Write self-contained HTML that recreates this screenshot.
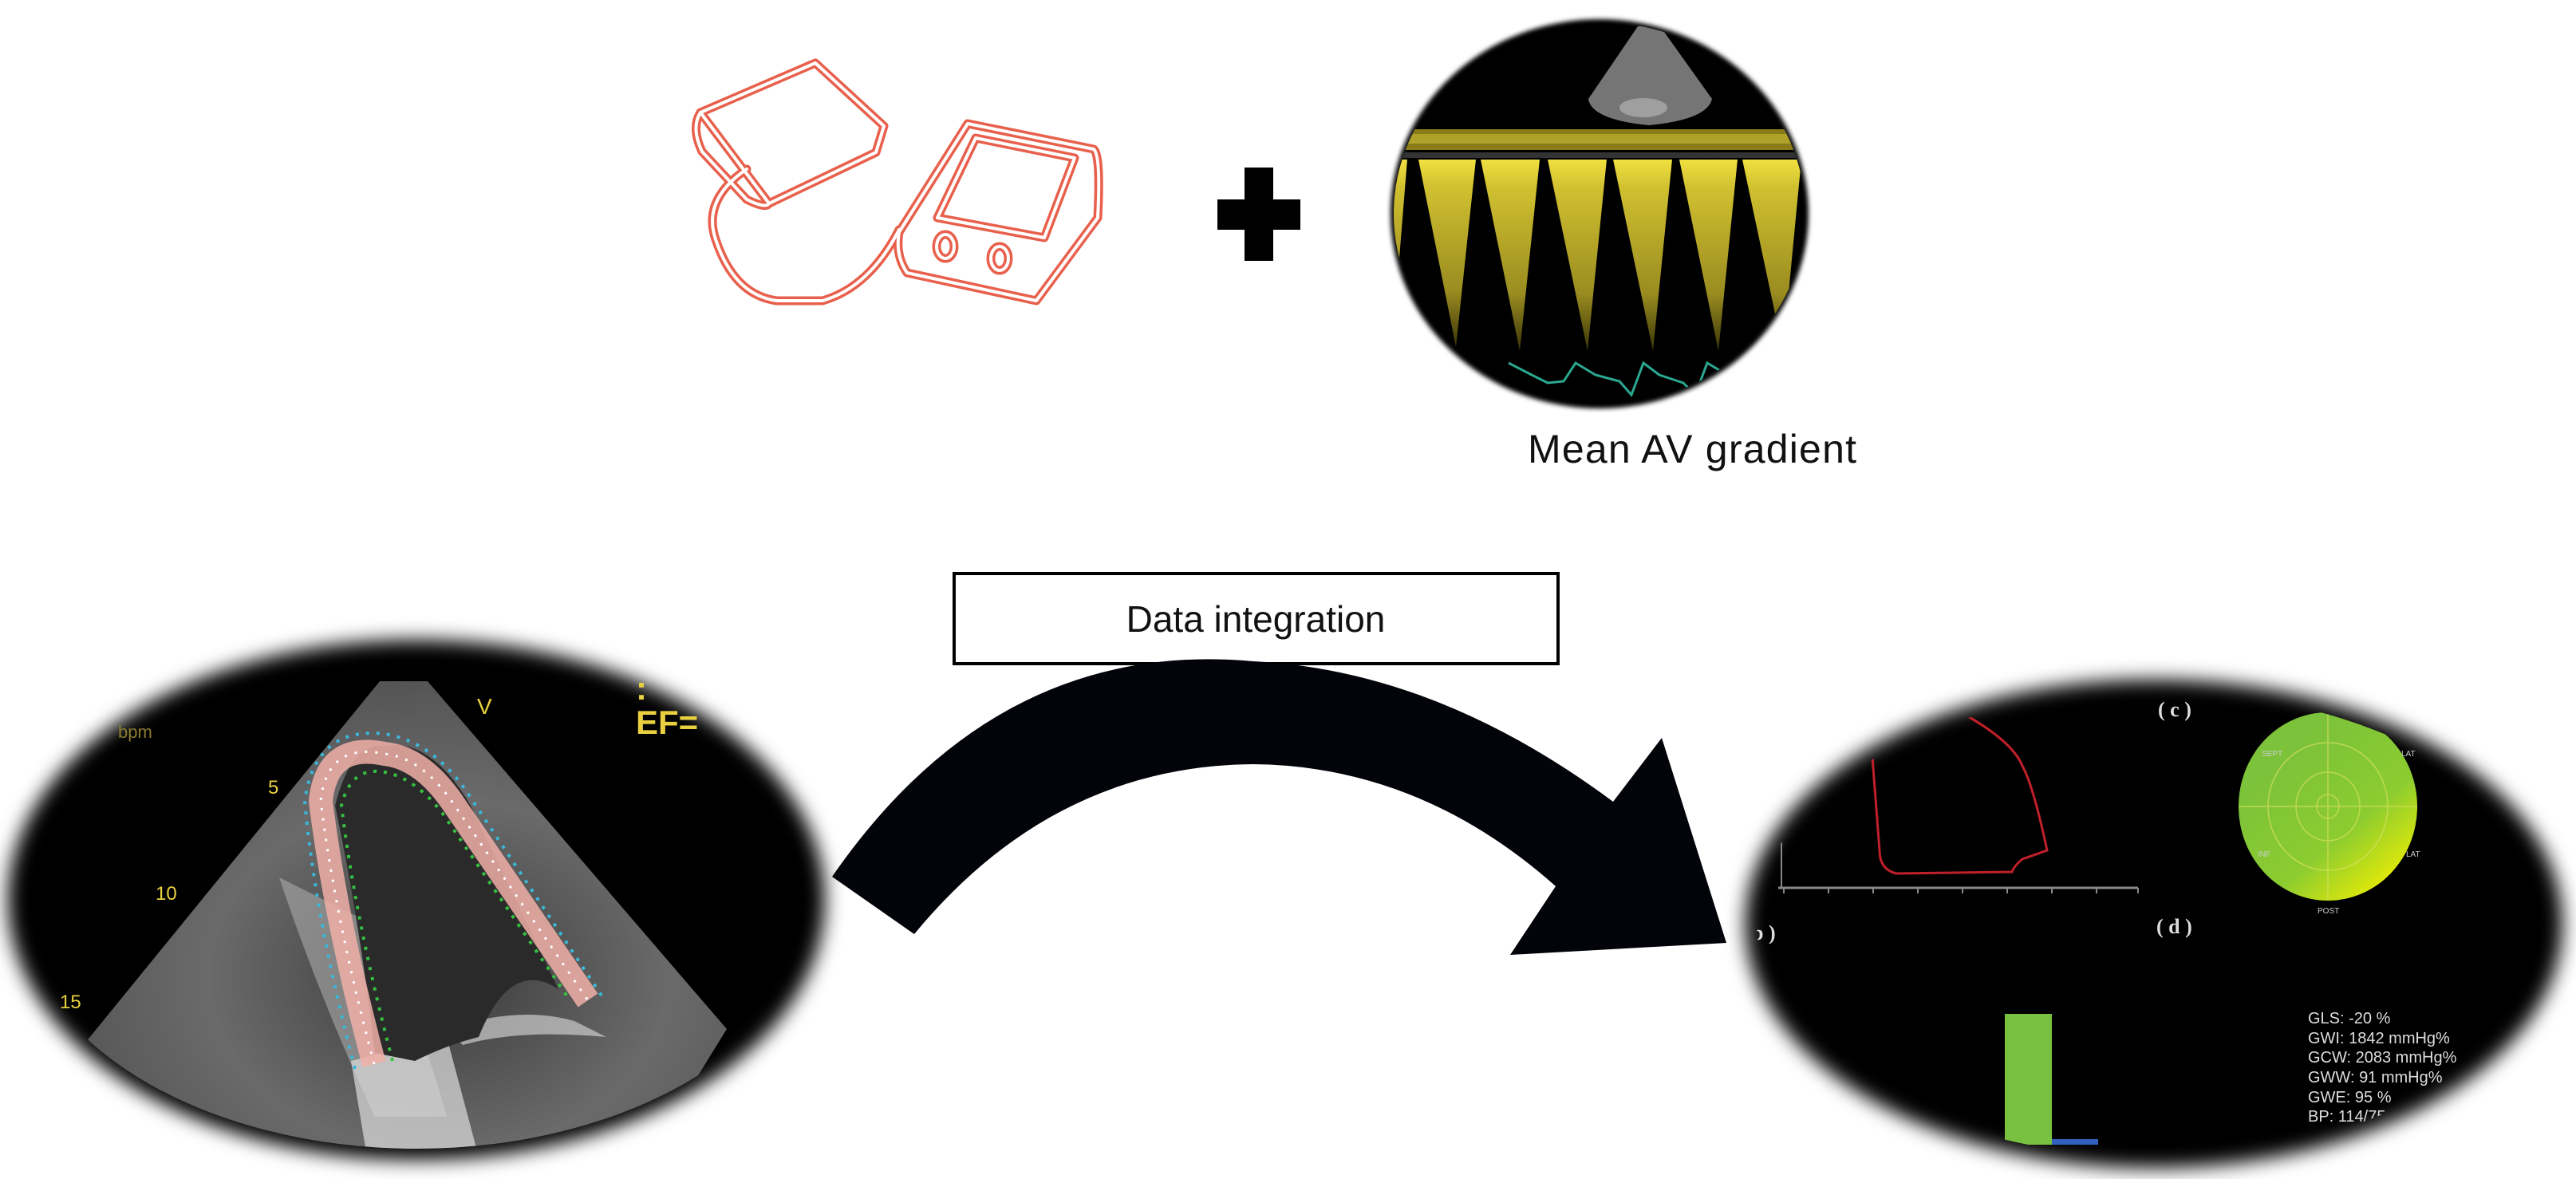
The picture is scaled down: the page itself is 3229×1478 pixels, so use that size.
<!DOCTYPE html>
<html><head><meta charset="utf-8"><style>
html,body{margin:0;padding:0;background:#fff;}
svg{display:block}
</style></head><body>
<svg width="3229" height="1478" viewBox="0 0 3229 1478" xmlns="http://www.w3.org/2000/svg">
<defs>
<filter id="blur" x="-10%" y="-10%" width="120%" height="120%"><feGaussianBlur stdDeviation="12"/></filter>
<filter id="blur2"><feGaussianBlur stdDeviation="3"/></filter>
<clipPath id="cl"><ellipse cx="522" cy="1128" rx="498" ry="312"/></clipPath>
<clipPath id="cr"><ellipse cx="2700" cy="1158" rx="498" ry="292"/></clipPath>
<clipPath id="ct"><ellipse cx="2005" cy="268" rx="258" ry="240"/></clipPath>
<linearGradient id="bull" x1="0.3" y1="0.2" x2="0.9" y2="0.95">
<stop offset="0" stop-color="#7cc23a"/><stop offset="0.55" stop-color="#8ccc30"/><stop offset="1" stop-color="#f5f000"/></linearGradient>
<linearGradient id="spike" x1="0" y1="0" x2="0" y2="1">
<stop offset="0" stop-color="#f0e040"/><stop offset="0.15" stop-color="#d0c030"/><stop offset="0.7" stop-color="#9a8c20"/><stop offset="1" stop-color="#3a3508"/></linearGradient>
<radialGradient id="fan" cx="0.55" cy="0.6" r="0.6">
<stop offset="0" stop-color="#3a3a3a"/><stop offset="0.6" stop-color="#6a6a6a"/><stop offset="1" stop-color="#555"/></radialGradient>
</defs>

<!-- Blood pressure cuff icon -->
<g fill="none" stroke-linejoin="round" stroke-linecap="round">
<g stroke="#e8604c" stroke-width="11">
<path d="M878,141 L1022,79 L1108,158 L1098,191 L964,255 Z"/>
<path d="M878,141 Q866,160 880,190 L936,250 Q960,262 964,255"/>
<path d="M936,212 Q880,250 897,300 Q920,370 974,377 L1031,377 Q1090,360 1127,288"/>
<path d="M1213,155 L1371,187 Q1380,195 1376,273 L1299,377 L1137,342 Q1122,320 1127,291 Z"/>
<path d="M1223,173 L1347,198 L1309,298 L1175,273 Z"/>
<ellipse cx="1185" cy="309" rx="11" ry="15"/>
<ellipse cx="1253" cy="324" rx="11" ry="15"/>
</g>
<g stroke="#fff" stroke-width="4">
<path d="M878,141 L1022,79 L1108,158 L1098,191 L964,255 Z"/>
<path d="M878,141 Q866,160 880,190 L936,250 Q960,262 964,255"/>
<path d="M936,212 Q880,250 897,300 Q920,370 974,377 L1031,377 Q1090,360 1127,288"/>
<path d="M1213,155 L1371,187 Q1380,195 1376,273 L1299,377 L1137,342 Q1122,320 1127,291 Z"/>
<path d="M1223,173 L1347,198 L1309,298 L1175,273 Z"/>
<ellipse cx="1185" cy="309" rx="11" ry="15"/>
<ellipse cx="1253" cy="324" rx="11" ry="15"/>
</g>
</g>

<!-- plus -->
<rect x="1560" y="210" width="36" height="117" fill="#000"/>
<rect x="1526" y="250" width="104" height="38" fill="#000"/>

<!-- Doppler ellipse -->
<ellipse cx="2005" cy="268" rx="262" ry="244" fill="#000" filter="url(#blur2)"/>
<g clip-path="url(#ct)">
<path d="M2053,33 L2081,33 L2146,124 Q2140,150 2067,157 Q1995,150 1991,124 Z" fill="#8a8a8a" opacity="0.85"/>
<ellipse cx="2060" cy="135" rx="30" ry="12" fill="#bbb" opacity="0.6"/>
<rect x="1740" y="162" width="540" height="26" fill="#8a7c1a"/>
<rect x="1740" y="168" width="540" height="12" fill="#c0b030" opacity="0.7"/>
<rect x="1740" y="191" width="540" height="7" fill="#333"/>
<g fill="url(#spike)">
<path d="M1700,200 L1764,200 L1745,435 Z"/>
<path d="M1778,200 L1850,200 L1825,435 Z"/>
<path d="M1856,200 L1930,200 L1905,440 Z"/>
<path d="M1940,200 L2014,200 L1990,440 Z"/>
<path d="M2022,200 L2096,200 L2072,440 Z"/>
<path d="M2105,200 L2178,200 L2154,440 Z"/>
<path d="M2184,200 L2258,200 L2235,440 Z"/>
<path d="M2266,200 L2330,200 L2310,440 Z"/>
</g>
<polyline points="1891,455 1920,470 1940,480 1960,478 1975,455 2000,470 2030,478 2045,495 2060,455 2080,470 2110,480 2125,495 2140,455 2165,470 2195,480 2210,495 2225,455 2250,470" fill="none" stroke="#2aa890" stroke-width="3"/>
</g>
<text x="1915" y="580" font-family="Liberation Sans, sans-serif" font-size="50" fill="#111" textLength="412">Mean AV gradient</text>

<!-- Data integration box -->
<rect x="1196" y="719" width="757" height="113" fill="#fff" stroke="#000" stroke-width="4"/>
<text x="1574" y="792" text-anchor="middle" font-family="Liberation Sans, sans-serif" font-size="46" fill="#111">Data integration</text>

<!-- Curved arrow -->
<path d="M1043,1099 Q1250,800 1571,829 Q1800,840 2022,1005 L2083,925 L2164,1182 L1893,1197 L1950,1111 Q1780,960 1571,958 Q1320,960 1146,1171 Z" fill="#02040a"/>

<!-- Left echo ellipse -->
<ellipse cx="522" cy="1128" rx="512" ry="326" fill="#000" filter="url(#blur)"/>
<g clip-path="url(#cl)">
<path d="M476,854 L536,854 L911,1290 L800,1470 L200,1470 L107,1307 Z" fill="url(#fan)"/>
<path d="M350,1100 Q400,1250 470,1400 L560,1400 Q520,1250 450,1150 Z" fill="#aaa" opacity="0.6"/>
<path d="M440,1330 L560,1300 L600,1450 L460,1450 Z" fill="#ddd" opacity="0.7"/>
<path d="M560,1290 Q650,1260 720,1280 L760,1300 Q650,1290 580,1310 Z" fill="#ccc" opacity="0.7"/>
<path d="M420,1010 Q440,930 482,935 Q540,925 590,1010 L700,1240 Q640,1200 600,1300 Q560,1310 520,1330 L470,1320 Q450,1150 420,1010 Z" fill="#2a2a2a"/>
<path d="M469,1334 Q420,1150 402,1004 Q410,930 482,945 Q530,950 570,1010 L737,1254" fill="none" stroke="#f0b0a8" stroke-width="30" opacity="0.85"/>
<path d="M469,1334 Q420,1150 402,1004 Q410,930 482,945 Q530,950 570,1010 L737,1254" fill="none" stroke="#fff" stroke-width="3" stroke-dasharray="3 10"/>
<path d="M445,1340 Q395,1150 382,1004 Q395,910 482,920 Q545,930 590,1000 L758,1254" fill="none" stroke="#3ab8d8" stroke-width="4" stroke-dasharray="4 9"/>
<path d="M492,1330 Q445,1150 428,1010 Q440,960 482,968 Q520,975 555,1020 L715,1255" fill="none" stroke="#35c040" stroke-width="4" stroke-dasharray="4 9"/>
</g>
<g font-family="Liberation Sans, sans-serif" fill="#e8d040">
<text x="797" y="920" font-size="42" font-weight="bold">EF=</text>
<text x="797" y="877" font-size="42" font-weight="bold">:</text>
<text x="598" y="895" font-size="28">V</text>
<text x="336" y="995" font-size="24">5</text>
<text x="195" y="1128" font-size="24">10</text>
<text x="75" y="1264" font-size="24">15</text>
<text x="148" y="925" font-size="22" fill="#8a7a30">bpm</text>
</g>

<!-- Right ellipse -->
<ellipse cx="2700" cy="1158" rx="512" ry="306" fill="#000" filter="url(#blur)"/>
<g clip-path="url(#cr)">
<path d="M2456,892 Q2522,928 2535,960 Q2549,986 2566,1066 L2535,1077 Q2525,1085 2522,1093 L2377,1095 Q2356,1090 2356,1066 L2346,936 L2343,880" fill="none" stroke="#c0202a" stroke-width="3"/>
<line x1="2229" y1="1113" x2="2680" y2="1113" stroke="#888" stroke-width="3"/>
<line x1="2233" y1="1040" x2="2233" y2="1113" stroke="#888" stroke-width="2"/>
<g stroke="#888" stroke-width="2">
<line x1="2236" y1="1113" x2="2236" y2="1120"/><line x1="2292" y1="1113" x2="2292" y2="1120"/><line x1="2348" y1="1113" x2="2348" y2="1120"/><line x1="2404" y1="1113" x2="2404" y2="1120"/><line x1="2460" y1="1113" x2="2460" y2="1120"/><line x1="2516" y1="1113" x2="2516" y2="1120"/><line x1="2572" y1="1113" x2="2572" y2="1120"/><line x1="2628" y1="1113" x2="2628" y2="1120"/><line x1="2680" y1="1113" x2="2680" y2="1120"/>
</g>
<ellipse cx="2918" cy="1011" rx="112" ry="118" fill="url(#bull)"/>
<g fill="none" stroke="#d8e060" stroke-width="1.5" opacity="0.7">
<ellipse cx="2918" cy="1011" rx="75" ry="80"/><ellipse cx="2918" cy="1011" rx="40" ry="43"/><ellipse cx="2918" cy="1011" rx="14" ry="15"/>
<line x1="2806" y1="1011" x2="3030" y2="1011"/><line x1="2918" y1="893" x2="2918" y2="1129"/>
</g>
<rect x="2513" y="1271" width="59" height="164" fill="#78c040"/>
<rect x="2572" y="1428" width="58" height="7" fill="#3060c0"/>
<g font-family="Liberation Sans, sans-serif" font-size="20" fill="#ddd">
<text x="2893" y="1283">GLS:   -20 %</text>
<text x="2893" y="1308">GWI:   1842 mmHg%</text>
<text x="2893" y="1332">GCW:  2083 mmHg%</text>
<text x="2893" y="1357">GWW:  91 mmHg%</text>
<text x="2893" y="1382">GWE:  95 %</text>
<text x="2893" y="1406">BP:    114/75</text>
</g>
<g font-family="Liberation Serif, serif" font-size="26" fill="#ddd" font-weight="bold">
<text x="2705" y="898">( c )</text>
<text x="2703" y="1170">( d )</text>
<text x="2196" y="1178">b )</text>
</g>
<g font-family="Liberation Sans, sans-serif" font-size="10" fill="#ccc">
<text x="2908" y="888">ANT</text><text x="2835" y="948">SEPT</text><text x="3010" y="948">LAT</text>
<text x="2830" y="1074">INF</text><text x="3016" y="1074">LAT</text><text x="2905" y="1145">POST</text>
</g>
</g>
</svg>
</body></html>
